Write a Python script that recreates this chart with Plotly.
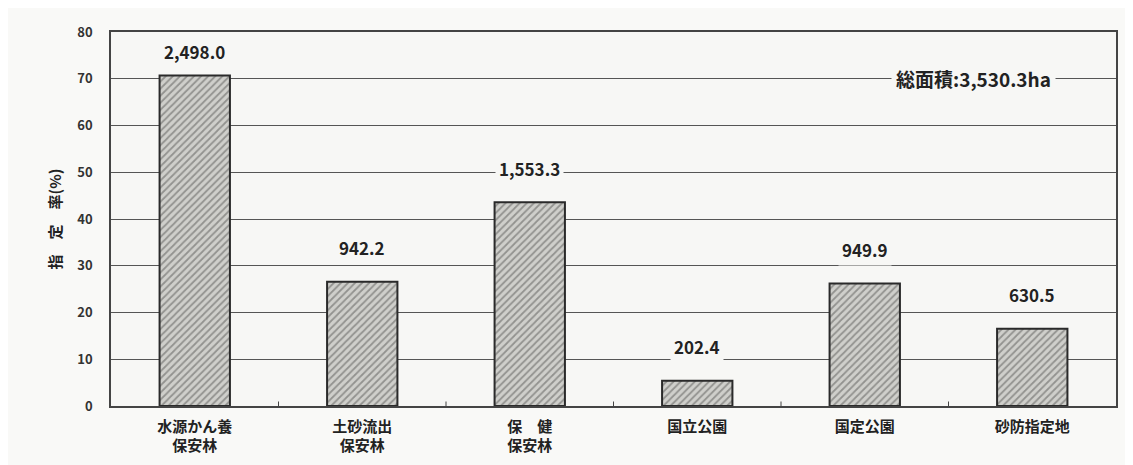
import plotly.graph_objects as go

categories = ["水源かん養<br>保安林", "土砂流出<br>保安林", "保　健<br>保安林", "国立公園", "国定公園", "砂防指定地"]
rates = [70.7, 26.6, 43.6, 5.4, 26.2, 16.5]
area_labels = ["2,498.0", "942.2", "1,553.3", "202.4", "949.9", "630.5"]
total_label = "総面積:3,530.3ha"
y_ticks = [0, 10, 20, 30, 40, 50, 60, 70, 80]

FONT = "Noto Sans CJK JP"

fig = go.Figure()
fig.add_trace(go.Bar(
    x=list(range(len(categories))),
    y=rates,
    width=0.42,
    marker=dict(
        color="#c0c0bc",
        line=dict(color="#2a2a2a", width=2),
        pattern=dict(shape="/", fgcolor="#555553", bgcolor="#cfcfcb", size=5, solidity=0.35),
    ),
    hoverinfo="skip",
))

for i, (v, t) in enumerate(zip(rates, area_labels)):
    fig.add_annotation(
        x=i, y=v, text="<b>%s</b>" % t, showarrow=False,
        yshift=24 if v > 60 else 34,
        font=dict(family=FONT, size=17, color="#222"),
        bgcolor="#f7f7f5", borderpad=3,
    )

fig.add_annotation(
    x=4.65, y=70, text="<b>%s</b>" % total_label, showarrow=False,
    font=dict(family=FONT, size=19, color="#222"),
    bgcolor="#f7f7f5", borderpad=4,
)

fig.update_layout(
    width=1133, height=465,
    margin=dict(l=103, r=25, t=24, b=67),
    paper_bgcolor="#f9f9f7",
    plot_bgcolor="#f7f7f5",
    showlegend=False,
    bargap=0.58,
    font=dict(family=FONT, color="#222"),
)
fig.update_xaxes(
    range=[-0.5, len(categories) - 0.5],
    tickmode="array",
    tickvals=list(range(len(categories))),
    ticktext=["<b>%s</b>" % c for c in categories],
    tickfont=dict(family=FONT, size=15, color="#222"),
    showgrid=False,
    showline=True, linecolor="#444", linewidth=1.5, mirror=True,
    ticks="", zeroline=False, ticklabelstandoff=6,
)
fig.update_yaxes(
    range=[0, 80],
    tickmode="array",
    tickvals=y_ticks,
    ticktext=["<b>%d</b>" % t for t in y_ticks],
    tickfont=dict(family=FONT, size=13, color="#333"),
    showgrid=True, gridcolor="#555", gridwidth=1,
    showline=True, linecolor="#444", linewidth=1.5, mirror=True,
    zeroline=False, ticks="", ticklabelstandoff=14,
    title=dict(text="<b>指　定　率(%)</b>", font=dict(family=FONT, size=15, color="#222"), standoff=12),
)
# category boundary tick marks
for b in [0.5, 1.5, 2.5, 3.5, 4.5]:
    fig.add_shape(type="line", xref="x", yref="paper", x0=b, x1=b, y0=0, y1=0.012,
                  line=dict(color="#444", width=1))

fig.write_html("out.html")
